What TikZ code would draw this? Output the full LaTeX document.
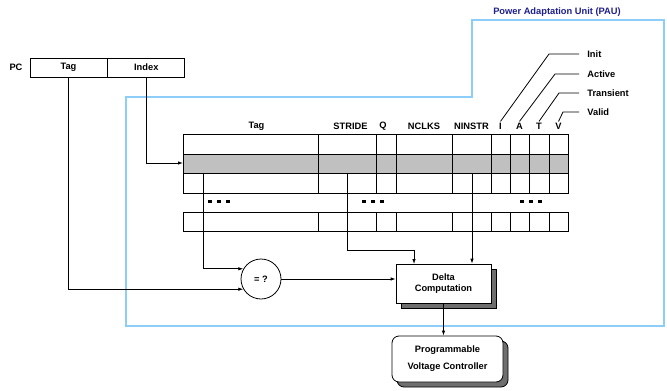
\documentclass[tikz,border=0pt]{standalone}
\usepackage{fontspec}
\setmainfont{Liberation Sans}
\usepackage{tikz}
\usetikzlibrary{positioning,arrows.meta}

\definecolor{paublue}{RGB}{140,205,250}
\definecolor{pautext}{RGB}{30,30,140}
\definecolor{rowgray}{RGB}{192,192,192}
\definecolor{shadowgray}{RGB}{110,110,110}

\tikzset{
  lbl/.style={font=\fontsize{9.3}{11}\selectfont\bfseries, inner sep=1pt},
  field/.style={lbl, draw, minimum height=19pt, inner sep=0pt},
  tip/.style={-{Latex[length=5pt,width=3.5pt]}},
}

\begin{document}
\begin{tikzpicture}[x=1pt,y=-1pt,line width=0.8pt]
  \useasboundingbox (0,0) rectangle (667,391);

  % Draw PAU outline
  \draw[paublue,line width=1.6pt] (126,97) -- (472,97) -- (472,20) -- (664,20)
        -- (664,326) -- (126,326) -- cycle;
  \node[lbl,text=pautext] (pau) at (557,12) {Power Adaptation Unit (PAU)};

  % Draw PC register
  \node[lbl] (pc) at (16,67.5) {PC};
  \node[field,minimum width=77pt] (pctag) at (68.5,67.5) {Tag};
  \node[field,minimum width=77pt,right=0pt of pctag] (pcindex) {Index};

  % Draw table rows
  \fill[rowgray] (183,154) rectangle (568,173);
  \foreach \ya/\yb in {134/154,154/173,173/193,212/231} {
    \draw (183,\ya) rectangle (568,\yb);
    \foreach \x in {318,376,396,452,491,510,529,549}
      \draw (\x,\ya) -- (\x,\yb);
  }

  % Column headings
  \node[lbl] (htag)    at (256.5,126) {Tag};
  \node[lbl] (hstride) at (350.5,126) {STRIDE};
  \node[lbl] (hq)      at (383,126)   {Q};
  \node[lbl] (hnclks)  at (424,126)   {NCLKS};
  \node[lbl] (hninstr) at (471.5,126) {NINSTR};
  \node[lbl] (hi)      at (500.5,126) {I};
  \node[lbl] (ha)      at (519.5,126) {A};
  \node[lbl] (ht)      at (539,126)   {T};
  \node[lbl] (hv)      at (558.5,126) {V};

  % Flag names
  \node[lbl,anchor=west] (init)  at (586,54)  {Init};
  \node[lbl,anchor=west] (act)   at (586,74)  {Active};
  \node[lbl,anchor=west] (trans) at (586,93)  {Transient};
  \node[lbl,anchor=west] (valid) at (586,112) {Valid};
  \draw ([xshift=-7pt]init.west)  -- (549,54)  -- (hi.north);
  \draw ([xshift=-7pt]act.west)   -- (555,74)  -- (ha.north);
  \draw ([xshift=-7pt]trans.west) -- (559,93)  -- (ht.north);
  \draw ([xshift=-7pt]valid.west) -- (563,112) -- (hv.north);

  % Dots between rows
  \foreach \x in {208,362,520}
    \foreach \k in {0,1,2}
      \fill (\x+9*\k,200) rectangle ++(4.4,3.3);

  % Comparator and boxes
  \node[lbl,draw,circle,minimum size=40pt,inner sep=0pt] (cmp) at (261,279) {= ?};
  \fill[shadowgray,draw=black] (401,269) rectangle (496,308);
  \node[lbl,draw,fill=white,minimum width=95pt,minimum height=39pt,align=center,
        font=\fontsize{9.3}{10.5}\selectfont\bfseries] (delta) at (443.5,283.5)
        {Delta\\Computation};
  \fill[shadowgray,draw=black,rounded corners=7pt] (397,341) rectangle (508,387);
  \node[lbl,draw,fill=white,rounded corners=7pt,minimum width=111pt,minimum height=46pt,
        align=center,font=\fontsize{9.3}{17}\selectfont\bfseries] (prog) at (447.5,359)
        {Programmable\\Voltage Controller};

  % Taps below the indexed row
  \coordinate (entry)     at (183,163);
  \coordinate (tagtap)    at (203,173);
  \coordinate (stridetap) at (347,173);
  \coordinate (ninstrtap) at (472,173);

  % Connectors
  \draw[tip] (pcindex.south) |- (entry);
  \draw[tip] (tagtap) |- (cmp.150);
  \draw[tip] (pctag.south) |- (cmp.210);
  \draw[tip] (cmp.east) -- (cmp.east -| delta.west);
  \draw[tip] (stridetap) |- (414,250) -- (414,264);
  \draw[tip] (ninstrtap) -- (ninstrtap |- delta.north);
  \draw[tip] (delta.south) -- (delta.south |- prog.north);
\end{tikzpicture}
\end{document}
